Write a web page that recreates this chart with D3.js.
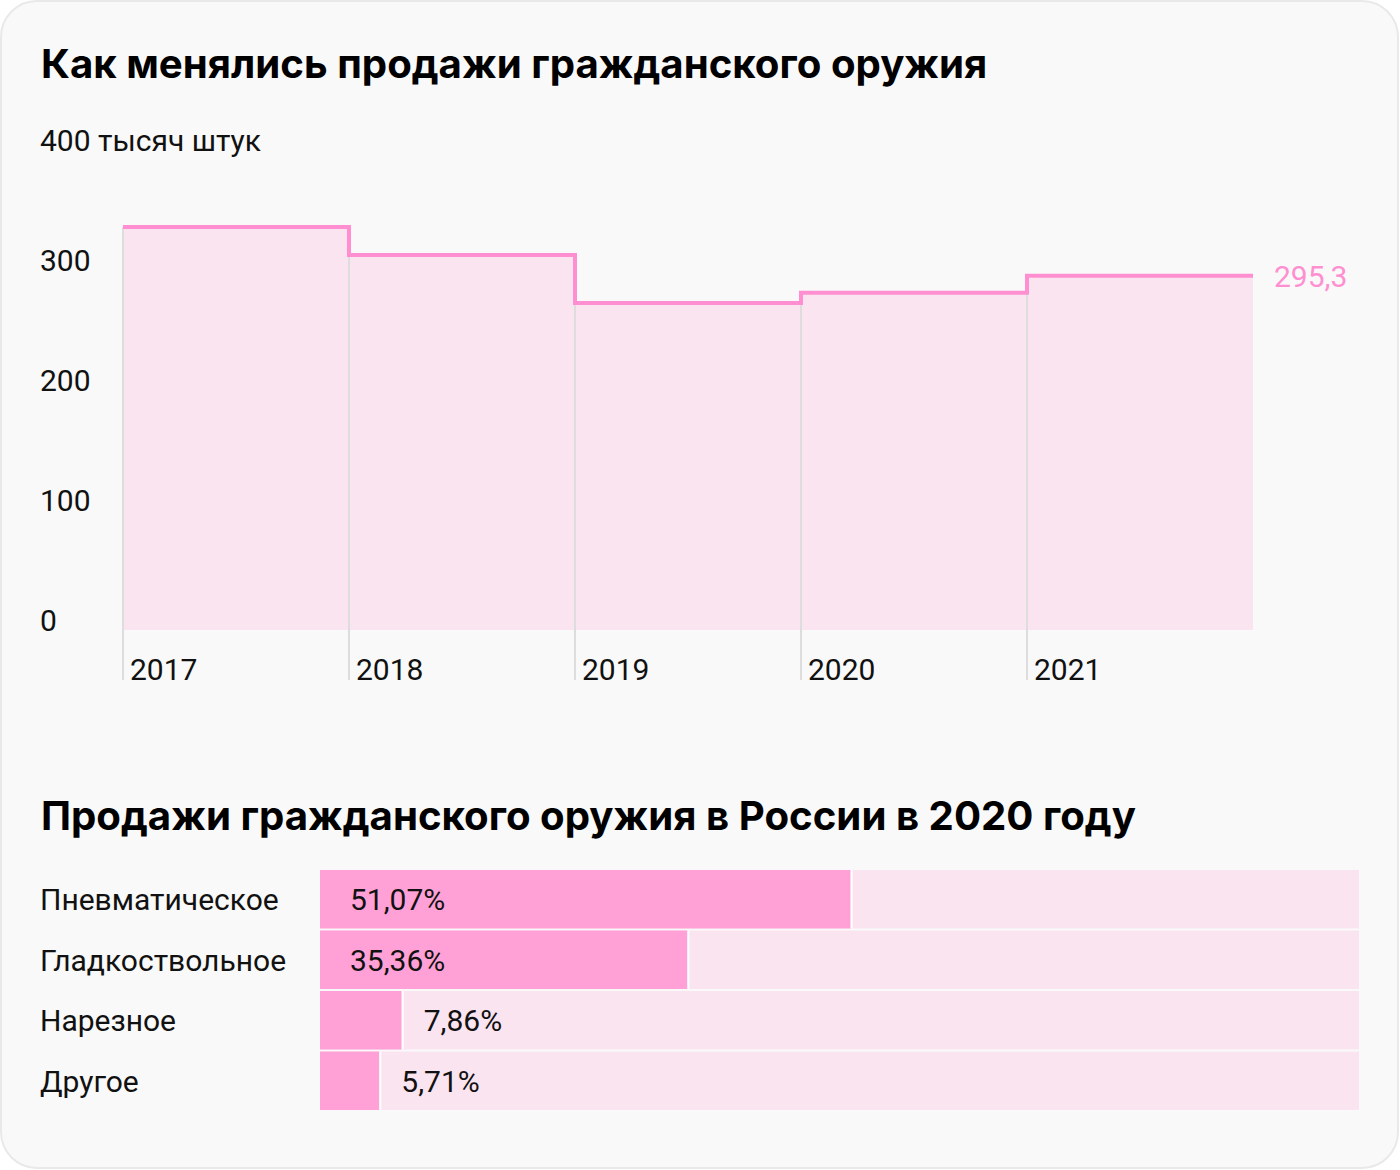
<!DOCTYPE html>
<html>
<head>
<meta charset="utf-8">
<script src="https://cdn.jsdelivr.net/npm/d3@7"></script>
<style>
  html, body { margin: 0; padding: 0; background: #ffffff; }
  svg { display: block; font-family: Roboto, Inter, "Noto Sans", sans-serif; }
  .title { font-family: Inter, Roboto, sans-serif; }
</style>
</head>
<body>
<svg id="mainsvg" width="1400" height="1170"></svg>
<script>
// данные
const years = ['2017', '2018', '2019', '2020', '2021'];
const sales = [335.9, 312.5, 272.6, 281.0, 295.3];
const yTicks = [0, 100, 200, 300, 400];
const unitLabel = 'тысяч штук';
const lastLabel = '295,3';

const categories = ['Пневматическое', 'Гладкоствольное', 'Нарезное', 'Другое'];
const shares = [51.07, 35.36, 7.86, 5.71];
const shareLabels = ['51,07%', '35,36%', '7,86%', '5,71%'];

const title1 = 'Как менялись продажи гражданского оружия';
const title2 = 'Продажи гражданского оружия в России в 2020 году';

const svg = d3.select('#mainsvg');
const width = +svg.attr('width');
const height = +svg.attr('height');

const pink = '#ff8fd1';
const pinkBar = '#ffa1d6';
const pinkLight = '#fae4f0';
const fs = 30;

// карточка
svg.append('rect')
  .attr('x', 1).attr('y', 1)
  .attr('width', width - 3).attr('height', height - 3)
  .attr('rx', 36)
  .attr('fill', '#f9f9f9')
  .attr('stroke', '#e9e9e9')
  .attr('stroke-width', 2);

svg.append('text')
  .attr('class', 'title')
  .attr('x', 41).attr('y', 78)
  .attr('font-size', 40.2).attr('font-weight', 700)
  .attr('fill', '#000')
  .text(title1);

// верхний график
const x = d3.scaleBand().domain(years).range([123, 1253]).padding(0);
const y = d3.scaleLinear().domain([0, 400]).range([630, 150]);

const pts = years.map((d, i) => [x(d), sales[i]]);
pts.push([x.range()[1], sales[sales.length - 1]]);

const g = svg.append('g');

g.append('path')
  .datum(pts)
  .attr('fill', pinkLight)
  .attr('d', d3.area().curve(d3.curveStepAfter)
    .x(d => d[0]).y0(y(0)).y1(d => y(d[1])));

g.selectAll('line.grid')
  .data(years)
  .join('line')
  .attr('class', 'grid')
  .attr('x1', d => x(d)).attr('x2', d => x(d))
  .attr('y1', (d, i) => y(sales[i]))
  .attr('y2', 680)
  .attr('stroke', '#dddddd')
  .attr('stroke-width', 2);

g.append('path')
  .datum(pts)
  .attr('fill', 'none')
  .attr('stroke', pink)
  .attr('stroke-width', 4)
  .attr('d', d3.line().curve(d3.curveStepAfter)
    .x(d => d[0]).y(d => y(d[1])));

g.selectAll('text.ytick')
  .data(yTicks)
  .join('text')
  .attr('class', 'ytick')
  .attr('x', 40)
  .attr('y', d => y(d) + 1)
  .attr('font-size', fs)
  .attr('fill', '#111')
  .text(d => d === 400 ? `${d} ${unitLabel}` : d);

g.selectAll('text.xtick')
  .data(years)
  .join('text')
  .attr('class', 'xtick')
  .attr('x', d => x(d) + 7)
  .attr('y', 680)
  .attr('font-size', fs)
  .attr('fill', '#111')
  .text(d => d);

g.append('text')
  .attr('x', x.range()[1] + 21)
  .attr('y', y(sales[sales.length - 1]) + 11)
  .attr('font-size', fs)
  .attr('fill', pink)
  .text(lastLabel);

// нижний график
svg.append('text')
  .attr('class', 'title')
  .attr('x', 41).attr('y', 830)
  .attr('font-size', 40.2).attr('font-weight', 700)
  .attr('fill', '#000')
  .text(title2);

const bx = d3.scaleLinear().domain([0, 100]).range([320, 1359]);
const by = d3.scaleBand().domain(categories).range([870, 1110]).paddingInner(2 / 60);

const rows = svg.append('g').selectAll('g')
  .data(categories)
  .join('g')
  .attr('transform', d => `translate(0, ${by(d)})`);

rows.append('rect')
  .attr('x', bx(0)).attr('width', bx(100) - bx(0))
  .attr('height', by.bandwidth())
  .attr('fill', pinkLight);

rows.append('rect')
  .attr('x', bx(0))
  .attr('width', (d, i) => bx(shares[i]) - bx(0))
  .attr('height', by.bandwidth())
  .attr('fill', pinkBar);

rows.append('line')
  .attr('x1', (d, i) => bx(shares[i]) + 1)
  .attr('x2', (d, i) => bx(shares[i]) + 1)
  .attr('y1', 0).attr('y2', by.bandwidth())
  .attr('stroke', '#ffffff')
  .attr('stroke-width', 2);

rows.append('text')
  .attr('x', 40)
  .attr('y', by.bandwidth() / 2)
  .attr('dy', '0.36em')
  .attr('font-size', fs)
  .attr('fill', '#111')
  .text(d => d);

rows.append('text')
  .attr('x', (d, i) => shares[i] > 20 ? bx(0) + 30 : bx(shares[i]) + 22)
  .attr('y', by.bandwidth() / 2)
  .attr('dy', '0.36em')
  .attr('font-size', fs)
  .attr('fill', '#111')
  .text((d, i) => shareLabels[i]);
</script>
</body>
</html>
